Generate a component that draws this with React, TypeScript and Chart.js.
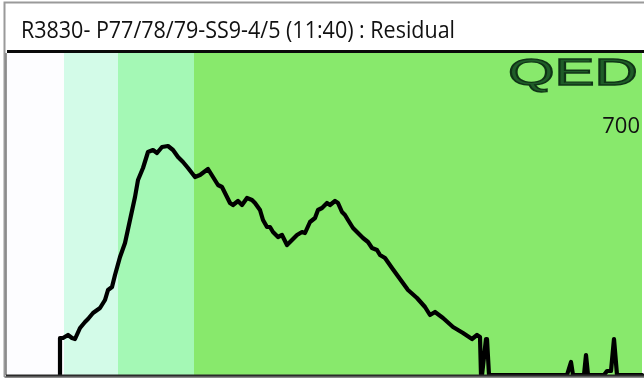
import React, { useEffect, useRef } from "react";
import { Chart, registerables } from "chart.js";

Chart.register(...registerables);

const TITLE = "R3830- P77/78/79-SS9-4/5 (11:40) : Residual";
const LOGO = "QED";
const SCALE_LABEL = "700";

const X_MAX = 635;
const Y_MAX = 322;

const bandStarts = [0, 57, 111, 187];
const bandEnds = [57, 111, 187, 635];
const bandColors = ["#fdfdff", "#d3fbe8", "#a4f8b5", "#88e96c"];

const xs = [
  53, 53, 56, 61, 65, 68, 73, 78, 81, 86, 93, 98, 101, 105, 108, 113, 118, 123, 128, 131,
  136, 141, 146, 150, 155, 161, 166, 171, 176, 181, 188, 193, 201, 206, 211, 215, 220, 223,
  226, 231, 235, 240, 245, 248, 253, 256, 260, 263, 266, 271, 275, 280, 285, 290, 295, 298,
  303, 308, 311, 315, 320, 323, 328, 331, 335, 338, 341, 346, 351, 356, 361, 365, 370, 373,
  378, 385, 393, 401, 410, 418, 423, 428, 436, 446, 456, 465, 470, 473, 474, 475, 479, 480,
  482, 560, 564, 566, 577, 579, 581, 597, 600, 604, 607, 610, 635,
];
const ys = [
  0, 37, 37, 40, 37, 36, 47, 53, 56, 62, 67, 75, 85, 88, 100, 118, 132, 155, 178, 195,
  207, 223, 225, 222, 228, 229, 225, 218, 213, 207, 198, 200, 206, 198, 190, 188, 178, 172,
  170, 174, 170, 177, 175, 172, 165, 155, 148, 148, 143, 138, 140, 130, 135, 140, 143, 142,
  153, 157, 165, 167, 172, 170, 174, 172, 163, 160, 155, 147, 142, 137, 133, 127, 125, 120,
  117, 107, 96, 85, 77, 68, 60, 63, 57, 48, 42, 36, 40, 38, 0, 0, 36, 36,
  0, 0, 13, 0, 0, 20, 0, 0, 4, 4, 36, 0, 0,
];

const framePlugin = {
  id: "frame",
  beforeDraw(chart: any) {
    const { ctx, chartArea, scales } = chart;
    const W = chart.width;
    const H = chart.height;
    ctx.save();
    ctx.fillStyle = "#ffffff";
    ctx.fillRect(0, 0, W, H);
    for (let i = 0; i < bandStarts.length; i++) {
      const x0 = scales.x.getPixelForValue(bandStarts[i]);
      const x1 = scales.x.getPixelForValue(bandEnds[i]);
      ctx.fillStyle = bandColors[i];
      ctx.fillRect(x0, chartArea.top, x1 - x0, chartArea.bottom - chartArea.top);
    }
    ctx.fillStyle = "#111111";
    ctx.font = "24px 'Open Sans'";
    ctx.textBaseline = "alphabetic";
    ctx.textAlign = "left";
    ctx.fillText(TITLE, 21, 37.5, 434);
    ctx.save();
    ctx.translate(508, 85);
    ctx.scale(1.62, 1);
    ctx.font = "37px 'Liberation Sans'";
    ctx.fillStyle = "#1f5c28";
    ctx.strokeStyle = "#0f3316";
    ctx.lineWidth = 1.4;
    ctx.fillText(LOGO, 0, 0);
    ctx.strokeText(LOGO, 0, 0);
    ctx.restore();
    ctx.fillStyle = "#111111";
    ctx.font = "22px 'Open Sans'";
    ctx.textAlign = "right";
    ctx.fillText(SCALE_LABEL, 640, 133);
    ctx.restore();
  },
  afterDraw(chart: any) {
    const { ctx, chartArea } = chart;
    const W = chart.width;
    ctx.save();
    ctx.strokeStyle = "#9a9a9a";
    ctx.lineWidth = 2;
    ctx.beginPath();
    ctx.moveTo(W + 2, 2.5);
    ctx.lineTo(4.5, 2.5);
    ctx.lineTo(4.5, 377);
    ctx.stroke();
    ctx.strokeStyle = "#8a8a8a";
    ctx.beginPath();
    ctx.moveTo(4.5, 377);
    ctx.lineTo(W + 2, 377);
    ctx.stroke();
    ctx.strokeStyle = "#777777";
    ctx.lineWidth = 1.5;
    ctx.beginPath();
    ctx.moveTo(6, chartArea.top);
    ctx.lineTo(6, chartArea.bottom);
    ctx.stroke();
    ctx.strokeStyle = "#0a0a0a";
    ctx.lineWidth = 3;
    ctx.beginPath();
    ctx.moveTo(7, chartArea.top - 1.5);
    ctx.lineTo(W + 2, chartArea.top - 1.5);
    ctx.stroke();
    ctx.strokeStyle = "#2a2a2a";
    ctx.lineWidth = 2;
    ctx.beginPath();
    ctx.moveTo(6, chartArea.bottom + 0.5);
    ctx.lineTo(W + 2, chartArea.bottom + 0.5);
    ctx.stroke();
    ctx.restore();
  },
};

export default function App() {
  const ref = useRef<HTMLCanvasElement | null>(null);
  useEffect(() => {
    if (!ref.current) return;
    const data = xs.map((x, i) => ({ x, y: ys[i] }));
    const chart = new Chart(ref.current, {
      type: "line",
      data: {
        datasets: [
          {
            data,
            borderColor: "#000000",
            borderWidth: 4.2,
            pointRadius: 0,
            tension: 0,
            fill: false,
            clip: 3,
            borderJoinStyle: "round",
            borderCapStyle: "round",
          } as any,
        ],
      },
      options: {
        responsive: false,
        animation: false,
        devicePixelRatio: 1,
        layout: { padding: { left: 7, right: 2, top: 53, bottom: 5 } },
        plugins: { legend: { display: false }, tooltip: { enabled: false }, title: { display: false } },
        scales: {
          x: { type: "linear", min: 0, max: X_MAX, display: false },
          y: { type: "linear", min: 0, max: Y_MAX, display: false },
        },
      },
      plugins: [framePlugin],
    });
    return () => chart.destroy();
  }, []);
  return (
    <div style={{ position: "absolute", left: 0, top: 0, width: 644, height: 380 }}>
      <canvas ref={ref} width={644} height={380} style={{ display: "block" }} />
    </div>
  );
}
